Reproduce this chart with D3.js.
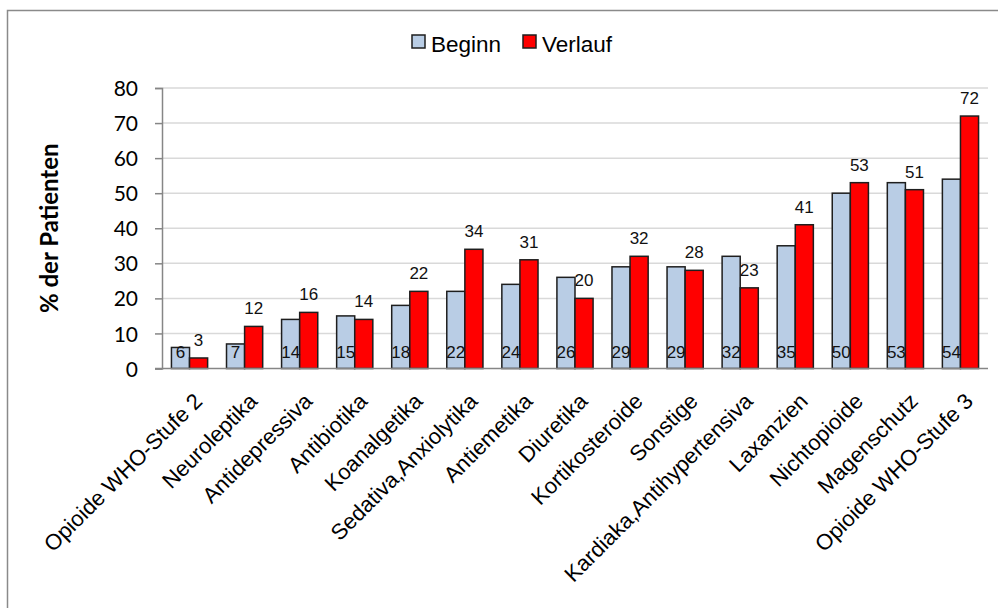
<!DOCTYPE html>
<html>
<head>
<meta charset="utf-8">
<script src="https://cdn.jsdelivr.net/npm/d3@7"></script>
<style>
  html, body { margin: 0; padding: 0; background: #fff; }
  svg { display: block; }
</style>
</head>
<body>
<svg id="chart" width="998" height="608"></svg>
<script>
// Medication groups (x categories)
const categories = [
  "Opioide WHO-Stufe 2", "Neuroleptika", "Antidepressiva", "Antibiotika",
  "Koanalgetika", "Sedativa,Anxiolytika", "Antiemetika", "Diuretika",
  "Kortikosteroide", "Sonstige", "Kardiaka,Antihypertensiva", "Laxanzien",
  "Nichtopioide", "Magenschutz", "Opioide WHO-Stufe 3"
];
// Share of patients (%) at the start and during the course
const beginn  = [6, 7, 14, 15, 18, 22, 24, 26, 29, 29, 32, 35, 50, 53, 54];
const verlauf = [3, 12, 16, 14, 22, 34, 31, 20, 32, 28, 23, 41, 53, 51, 72];
const seriesNames = ["Beginn", "Verlauf"];
const yTicks = [0, 10, 20, 30, 40, 50, 60, 70, 80];
const yTitle = "% der Patienten";

const colors = { Beginn: "#b9cde5", Verlauf: "#ff0000" };
const rows = categories.map((c, i) => ({ cat: c, Beginn: beginn[i], Verlauf: verlauf[i] }));

const svg = d3.select("#chart");
const plot = { left: 162, right: 988, top: 88, bottom: 368.5 };

// outer chart frame (runs off the right and bottom edge)
svg.append("rect")
  .attr("x", 7.5).attr("y", 10.5).attr("width", 1100).attr("height", 800)
  .attr("fill", "none").attr("stroke", "#8a8a8a").attr("stroke-width", 1.5);

const x0 = d3.scaleBand().domain(categories)
  .range([plot.left, plot.right]).paddingInner(0.343).paddingOuter(0.1715);
const x1 = d3.scaleBand().domain(seriesNames).range([0, x0.bandwidth()]);
const y = d3.scaleLinear().domain([0, 80]).range([plot.bottom, plot.top]);

// horizontal gridlines
svg.append("g").selectAll("line").data(yTicks.filter(t => t > 0)).join("line")
  .attr("x1", plot.left).attr("x2", plot.right)
  .attr("y1", d => y(d)).attr("y2", d => y(d))
  .attr("stroke", "#d9d9d9").attr("stroke-width", 1.5);

// bars
const groups = svg.append("g").selectAll("g").data(rows).join("g")
  .attr("transform", d => `translate(${x0(d.cat)},0)`);
groups.selectAll("rect").data(d => seriesNames.map(s => ({ s, v: d[s] }))).join("rect")
  .attr("x", d => x1(d.s))
  .attr("width", x1.bandwidth())
  .attr("y", d => y(d.v))
  .attr("height", d => y(0) - y(d.v))
  .attr("fill", d => colors[d.s])
  .attr("stroke", "#1e1e1e").attr("stroke-width", 1.5);

// value labels: Beginn inside the base, Verlauf above the bar end
groups.append("text")
  .attr("x", x1("Beginn") + x1.bandwidth() / 2)
  .attr("y", y(0) - 11)
  .attr("text-anchor", "middle")
  .attr("font-family", "'Liberation Sans', Arial, sans-serif")
  .attr("font-size", 17).attr("fill", "#111")
  .text(d => d.Beginn);
groups.append("text")
  .attr("x", x1("Verlauf") + x1.bandwidth() / 2)
  .attr("y", d => y(d.Verlauf) - 12)
  .attr("text-anchor", "middle")
  .attr("font-family", "'Liberation Sans', Arial, sans-serif")
  .attr("font-size", 17).attr("fill", "#111")
  .text(d => d.Verlauf);

// y axis
const yAxis = svg.append("g")
  .attr("transform", `translate(${plot.left},0)`)
  .call(d3.axisLeft(y).tickValues(yTicks).tickSize(7).tickPadding(17).tickFormat(d3.format("d")));
yAxis.select(".domain").attr("stroke", "#868686").attr("stroke-width", 1.5);
yAxis.selectAll(".tick line").attr("stroke", "#868686").attr("stroke-width", 1.5);
yAxis.selectAll(".tick text")
  .attr("font-family", "Lato, 'Open Sans', sans-serif")
  .attr("font-size", 21).attr("fill", "#000").attr("dy", "0.36em");

// x axis baseline
const xAxis = svg.append("g")
  .attr("transform", `translate(0,${plot.bottom})`)
  .call(d3.axisBottom(x0).tickSize(0).tickPadding(0));
xAxis.select(".domain").attr("stroke", "#868686").attr("stroke-width", 1.5)
  .attr("d", `M${plot.left - 7},0H${plot.right}`);
xAxis.selectAll(".tick text")
  .attr("font-family", "'Liberation Sans', Arial, sans-serif")
  .attr("font-size", 22).attr("fill", "#000")
  .attr("text-anchor", "end")
  .attr("dy", 0)
  .attr("transform", "translate(14,34) rotate(-45)");

// y axis title
svg.append("text")
  .attr("transform", `translate(${58},${(plot.top + plot.bottom) / 2}) rotate(-90)`)
  .attr("text-anchor", "middle")
  .attr("font-family", "Lato, 'Open Sans', sans-serif")
  .attr("font-weight", "bold").attr("font-size", 24)
  .attr("fill", "#000")
  .text(yTitle);

// legend
const legend = svg.append("g");
const legendPos = { Beginn: 412, Verlauf: 523 };
seriesNames.forEach(s => {
  legend.append("rect")
    .attr("x", legendPos[s]).attr("y", 35).attr("width", 13).attr("height", 13)
    .attr("fill", colors[s]).attr("stroke", "#1e1e1e").attr("stroke-width", 1.5);
  legend.append("text")
    .attr("x", legendPos[s] + 19).attr("y", 52)
    .attr("font-family", "'Liberation Sans', Arial, sans-serif")
    .attr("font-size", 22.5).attr("fill", "#000")
    .text(s);
});
</script>
</body>
</html>
